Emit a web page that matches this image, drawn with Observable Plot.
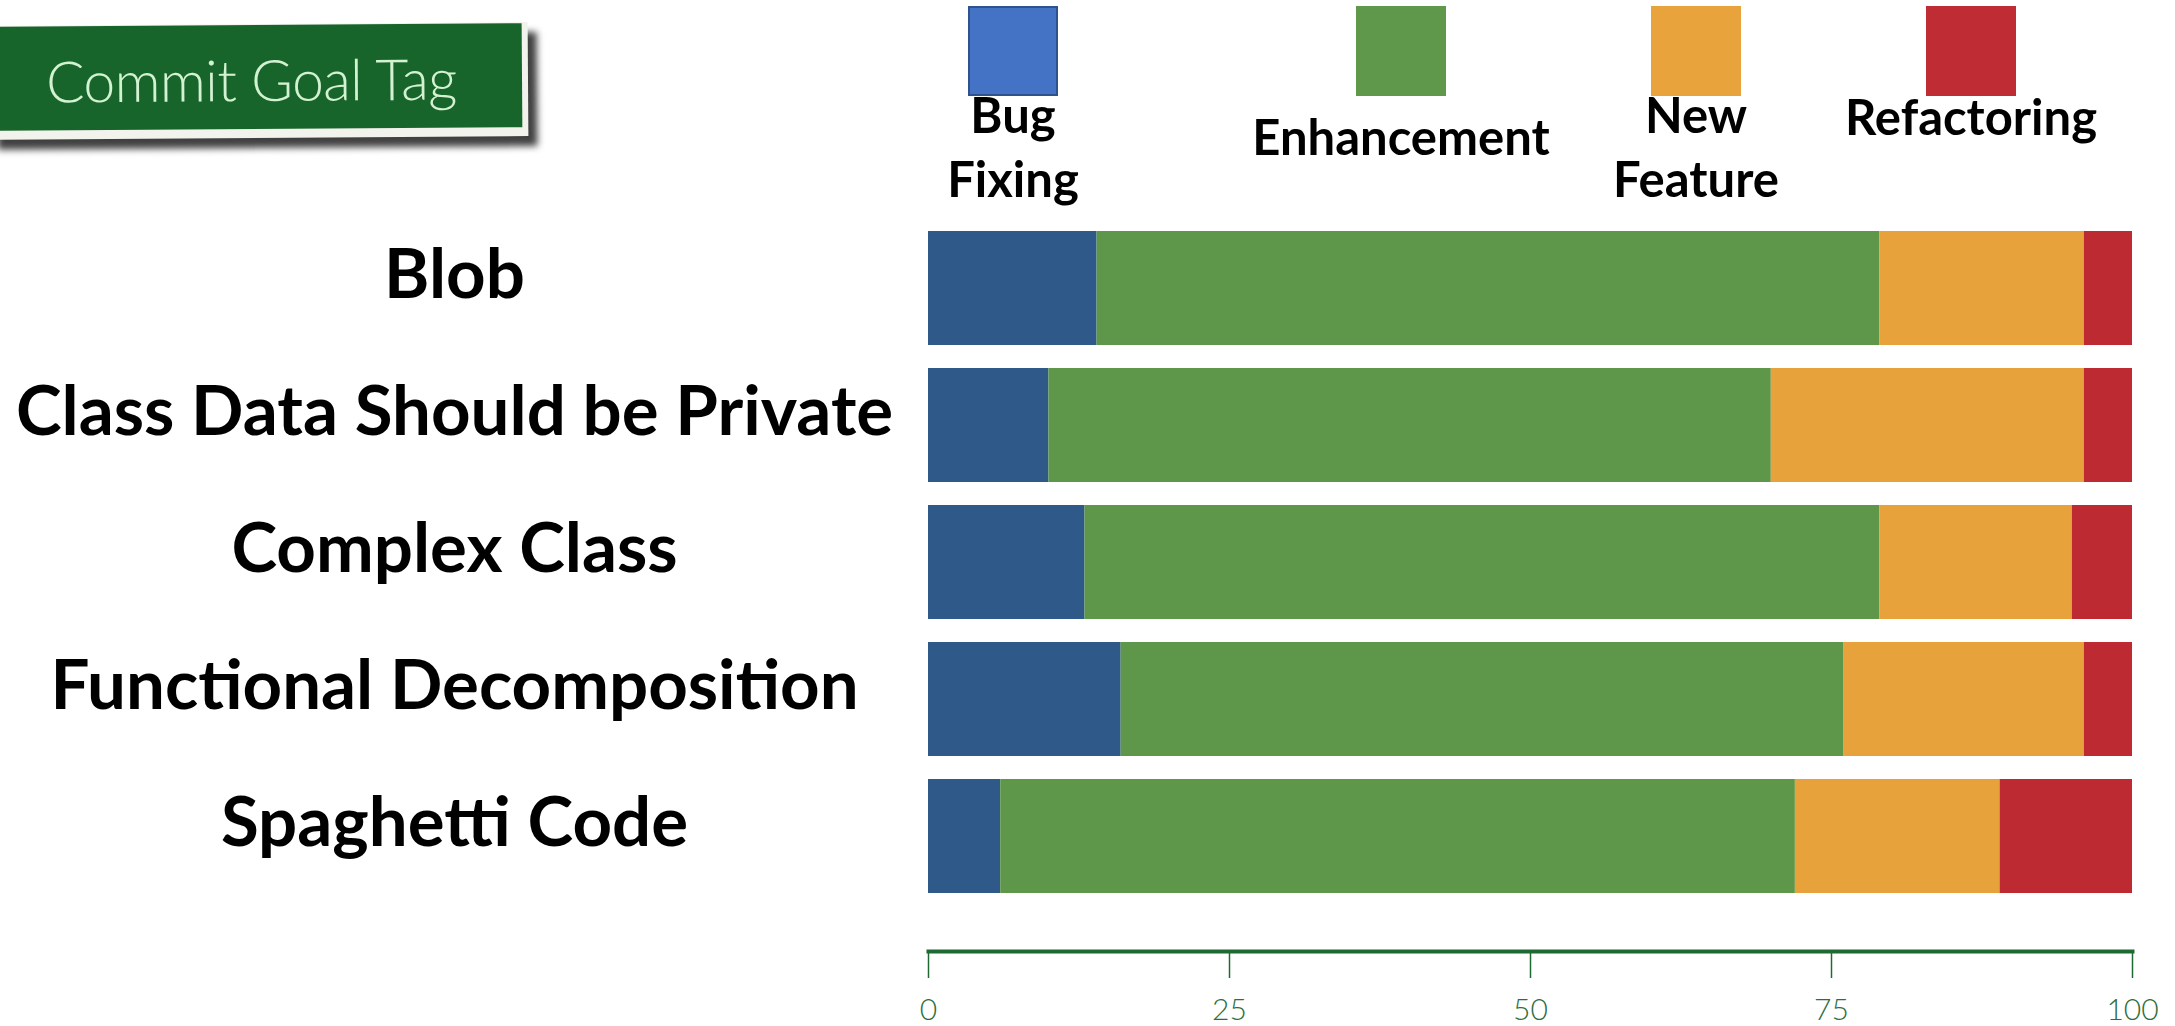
<!DOCTYPE html>
<html>
<head>
<meta charset="utf-8">
<script src="https://cdn.jsdelivr.net/npm/d3@7"></script>
<script src="https://cdn.jsdelivr.net/npm/@observablehq/plot@0.6"></script>
<style>
  html, body { margin: 0; padding: 0; background: #fff; }
  #page { position: relative; width: 2175px; height: 1026px; overflow: hidden; background: #fff; }
  #header { position: relative; width: 2175px; height: 210px; }
  .banner-back { position: absolute; left: -12px; top: 24px; width: 540px; height: 114px;
    background: #f3f3ee; box-shadow: 9px 10px 7px rgba(0,0,0,0.75); transform: rotate(-0.4deg); }
  .banner { position: absolute; left: -12px; top: 25px; width: 534px; height: 104px; background: #17652b;
    transform: rotate(-0.4deg); }
  .banner span { position: absolute; left: 58px; top: 20px; font-family: Lato, "Open Sans", sans-serif;
    font-weight: 300; font-size: 57px; color: #d3f2d2; letter-spacing: -0.6px; white-space: nowrap; }
  .item { position: absolute; top: 0; width: 400px; margin-left: -200px; text-align: center; }
  .swatch { position: absolute; top: 6px; left: 155px; width: 90px; height: 90px; box-sizing: border-box; }
  .lbl { position: absolute; left: 0; width: 400px; text-align: center; font-family: Lato, "Liberation Sans", sans-serif;
    font-weight: 700; font-size: 49px; line-height: 64px; color: #000; }
  #chart svg { display: block; }
</style>
</head>
<body>
<div id="page">
  <div id="header"></div>
  <div id="chart"></div>
</div>
<script>
// Commit goal shares (%) per anti-pattern
const categories = ["Blob", "Class Data Should be Private", "Complex Class", "Functional Decomposition", "Spaghetti Code"];
const goals = ["Bug Fixing", "Enhancement", "New Feature", "Refactoring"];
const bugFixing   = [14, 10, 13, 16, 6];
const enhancement = [65, 60, 66, 60, 66];
const newFeature  = [17, 26, 16, 20, 17];
const refactoring = [4, 4, 5, 4, 11];
const xTicks = [0, 25, 50, 75, 100];

const barColors = ["#2e5989", "#5e9749", "#e8a23c", "#be2a32"];
const swatchColors = ["#4472c4", "#5f984a", "#e9a33d", "#bf2c33"];
const axisGreen = "#1f6a33";

const series = [bugFixing, enhancement, newFeature, refactoring];
const rows = categories.flatMap((category, i) =>
  goals.map((goal, j) => ({category, goal, value: series[j][i]}))
);

// Header: tag banner and legend
const header = document.getElementById("header");
header.innerHTML = `<div class="banner-back"></div><div class="banner"><span>Commit Goal Tag</span></div>`;
const legendX = [1013, 1401, 1696, 1971];
const legendTextTop = [82, 104, 82, 84];
goals.forEach((g, i) => {
  const item = document.createElement("div");
  item.className = "item";
  item.style.left = legendX[i] + "px";
  const sw = document.createElement("div");
  sw.className = "swatch";
  sw.style.background = swatchColors[i];
  if (i === 0) sw.style.border = "2px solid #2f528f";
  item.appendChild(sw);
  const lbl = document.createElement("div");
  lbl.className = "lbl";
  lbl.style.top = legendTextTop[i] + "px";
  lbl.innerHTML = g.split(" ").join("<br>");
  item.appendChild(lbl);
  header.appendChild(item);
});

const chart = Plot.plot({
  width: 2175,
  height: 816,
  marginLeft: 928,
  marginRight: 43,
  marginTop: 19,
  marginBottom: 75,
  style: {background: "#fff", overflow: "visible"},
  x: {domain: [0, 100], label: null},
  y: {domain: categories, paddingInner: 0.165, paddingOuter: 0, insetBottom: 56, label: null},
  color: {domain: goals, range: barColors},
  marks: [
    Plot.barX(rows, {x: "value", y: "category", fill: "goal", order: goals}),
    Plot.frame({anchor: "bottom", stroke: axisGreen, strokeWidth: 4}),
    Plot.axisX({
      ticks: xTicks, tickSize: 27, tickPadding: 20, stroke: axisGreen, strokeWidth: 1.5,
      fill: "#2d6e3d", fontSize: 30, fontFamily: "Lato, 'Open Sans', sans-serif", fontWeight: 300,
      label: null
    }),
    Plot.axisY({
      tickSize: 0, tickPadding: 474, textAnchor: "middle", dy: -13,
      fontSize: 69, fontWeight: "bold", fill: "#000",
      fontFamily: "Lato, 'Liberation Sans', sans-serif", label: null
    })
  ]
});
document.getElementById("chart").appendChild(chart);
</script>
</body>
</html>
